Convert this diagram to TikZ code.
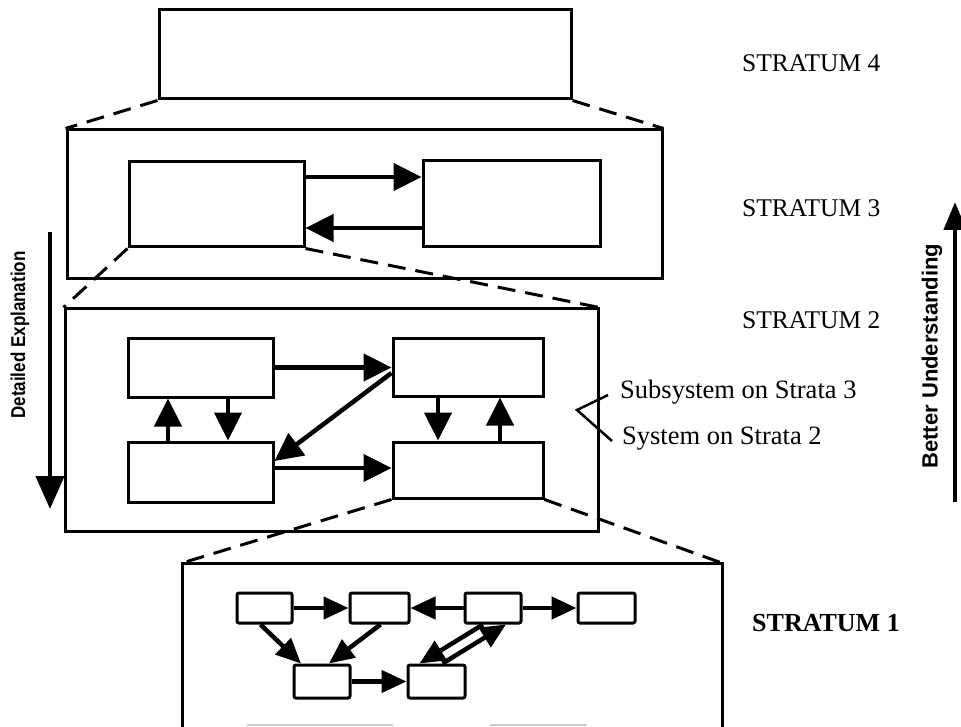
\documentclass[tikz,border=0pt]{standalone}
\usepackage{fontspec}
\setmainfont{Liberation Serif}
\newfontfamily\labsans{Liberation Sans}
\usetikzlibrary{arrows.meta}
\tikzset{
  box/.style={draw, line width=3pt, inner sep=0pt},
  sbox/.style={draw, line width=3pt, inner sep=0pt, rounded corners=2pt},
  arr/.style={line width=4.5pt, -{Triangle[length=28pt,width=27pt]}},
  sarr/.style={line width=4.5pt, -{Triangle[length=25pt,width=22pt]}},
  dashln/.style={line width=3pt, dash pattern=on 18pt off 10pt},
  bigarr/.style={line width=4.5pt, -{Triangle[length=33pt,width=28pt]}},
  strat/.style={anchor=west, inner sep=0pt, font=\fontsize{25.5}{30}\selectfont},
  lab/.style={anchor=west, inner sep=0pt, font=\fontsize{26.5}{30}\selectfont},
}
\begin{document}
\begin{tikzpicture}[x=1pt,y=-1pt]
\useasboundingbox (0,0) rectangle (961,727);
% Stratum 4
\node[box, minimum width=412pt, minimum height=89pt] (s4) at (365,54.5) {};
% Stratum 3
\node[box, minimum width=595pt, minimum height=149pt] (s3) at (364.5,204.5) {};
\node[box, minimum width=175pt, minimum height=85pt] (s3a) at (216.5,204.5) {};
\node[box, minimum width=177pt, minimum height=86pt] (s3b) at (511.5,204) {};
\draw[arr] ([yshift=27.5pt]s3a.east) -- ([yshift=27.5pt]s3a.east -| s3b.west);
\draw[arr] ([yshift=-24pt]s3b.west) -- ([yshift=-24pt]s3b.west -| s3a.east);
% Stratum 2
\node[box, minimum width=533pt, minimum height=222pt] (s2) at (331.5,420) {};
\node[box, minimum width=145pt, minimum height=59pt] (tl) at (200.5,367.5) {};
\node[box, minimum width=150pt, minimum height=58pt] (tr) at (468,367) {};
\node[box, minimum width=145pt, minimum height=60pt] (bl) at (200.5,472) {};
\node[box, minimum width=150pt, minimum height=56pt] (br) at (468,470) {};
\draw[arr] (tl.east) -- (tl.east -| tr.west);
\draw[arr] ([xshift=-32.5pt]bl.north) -- ([xshift=-32.5pt]tl.south);
\draw[arr] ([xshift=27.5pt]tl.south) -- ([xshift=27.5pt]bl.north);
\draw[arr] ([yshift=-6pt]tr.west) -- ([yshift=11pt]bl.east);
\draw[arr] ([yshift=4pt]bl.east) -- ([yshift=4pt]bl.east -| br.west);
\draw[arr] ([xshift=-30pt]tr.south) -- ([xshift=-30pt]br.north);
\draw[arr] ([xshift=32pt]br.north) -- ([xshift=32pt]tr.south);
% Stratum 1 (open bottom)
\coordinate (s1nw) at (182,563);
\coordinate (s1ne) at (722,563);
\coordinate (s1sw) at (182,727);
\coordinate (s1se) at (722,727);
\draw[line width=3pt] (s1sw) -- (s1nw) -- (s1ne) -- (s1se);
\node[sbox, minimum width=55pt, minimum height=30pt] (A) at (264.5,608) {};
\node[sbox, minimum width=59pt, minimum height=30pt] (B) at (379.5,608) {};
\node[sbox, minimum width=56pt, minimum height=30pt] (C) at (493,608) {};
\node[sbox, minimum width=57pt, minimum height=30pt] (D) at (606.5,608) {};
\node[sbox, minimum width=56pt, minimum height=33pt] (E) at (322,681.5) {};
\node[sbox, minimum width=57pt, minimum height=33pt] (F) at (436.5,681.5) {};
\draw[sarr] (A.east) -- (A.east -| B.west);
\draw[sarr] (C.west) -- (C.west -| B.east);
\draw[sarr] (C.east) -- (C.east -| D.west);
\draw[sarr] (E.east) -- (E.east -| F.west);
\draw[sarr] ([xshift=-4pt]A.south) -- ([xshift=-21pt]E.north);
\draw[sarr] ([xshift=1pt]B.south) -- ([xshift=7pt]E.north);
\draw[sarr] ([xshift=-10pt]C.south) -- ([xshift=-17pt]F.north);
\draw[sarr] ([xshift=6pt]F.north) -- ([xshift=13pt]C.south);
% faint bottom marks
\draw[gray!40, line width=1.5pt] (247,725) -- (393,725);
\draw[gray!40, line width=1.5pt] (490,725) -- (587,725);
% dashed projection lines
\draw[dashln] (s4.south west) -- (s3.north west);
\draw[dashln] (s4.south east) -- (s3.north east);
\draw[dashln] (s3a.south west) -- (s2.north west);
\draw[dashln] (s3a.south east) -- (s2.north east);
\draw[dashln] (br.south west) -- (s1nw);
\draw[dashln] (br.south east) -- (s1ne);
% stratum labels
\node[strat] (t4) at (742,63) {STRATUM 4};
\node[strat] (t3) at (742,208) {STRATUM 3};
\node[strat] (t2) at (742,320) {STRATUM 2};
\node[strat, font=\fontsize{26}{30}\selectfont\bfseries] (t1) at (752,623) {STRATUM 1};
% subsystem / system labels and bracket
\node[lab] (sub) at (620,392) {Subsystem on Strata 3};
\node[lab] (sys) at (622,439) {System on Strata 2};
\coordinate (brk) at (577,410);
\draw[line width=2.5pt] ([xshift=-12pt,yshift=-3pt]sub.west) -- (brk) -- ([xshift=-10pt,yshift=-2pt]sys.west);
% side arrows
\coordinate (de1) at (50,232);
\coordinate (de2) at (50,509);
\draw[bigarr] (de1) -- (de2);
\node[rotate=90, inner sep=0pt, font=\labsans\bfseries\fontsize{20}{22}\selectfont] (det) at (20,335) {\scalebox{0.85}[1]{Detailed Explanation}};
\coordinate (bu1) at (955,502);
\coordinate (bu2) at (955,202);
\draw[line width=4.5pt, -{Triangle[length=28pt,width=22pt]}] (bu1) -- (bu2);
\node[rotate=90, inner sep=0pt, font=\labsans\bfseries\fontsize{22}{24}\selectfont] (bet) at (932,356) {Better Understanding};
\end{tikzpicture}
\end{document}
